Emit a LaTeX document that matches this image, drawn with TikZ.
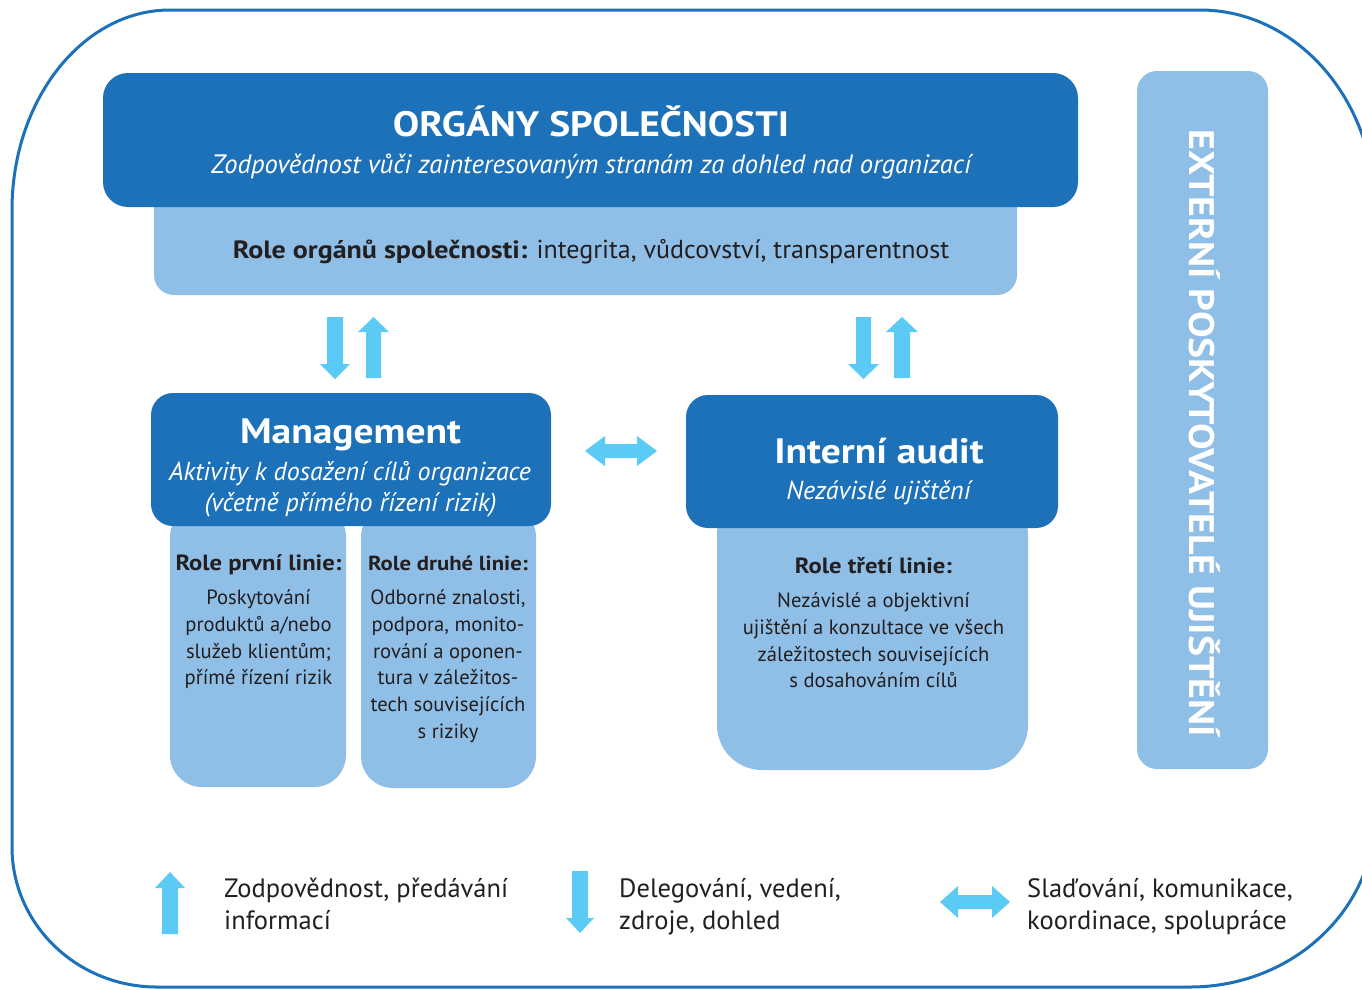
\documentclass[tikz,border=0pt]{standalone}
\usepackage{fontspec}
\setmainfont[BoldFeatures={FakeStretch=1.12}]{PT Sans}
\definecolor{dblue}{RGB}{29,113,184}
\definecolor{lblue}{RGB}{143,190,230}
\definecolor{acyan}{RGB}{91,203,245}
\definecolor{txt}{RGB}{35,31,32}
\tikzset{
  darkbox/.style={fill=dblue, draw=none, rounded corners=#1, inner sep=0pt},
  lightbox/.style={fill=lblue, draw=none, rounded corners=#1, inner sep=0pt},
  frameline/.style={draw=dblue, line width=3pt},
  barrow/.style={fill=acyan, draw=none},
  bigtitle/.style={text=white, inner sep=0pt, anchor=base, font=\bfseries\fontsize{35.3}{40}\selectfont},
  subtitle/.style={text=white, inner sep=0pt, anchor=base, font=\itshape\fontsize{26}{30}\selectfont},
  rolehead/.style={text=txt, inner sep=0pt, anchor=base, font=\bfseries\fontsize{22}{26}\selectfont},
  roletext/.style={text=txt, inner sep=0pt, anchor=base, font=\fontsize{20.6}{26}\selectfont},
  legendtext/.style={text=txt, inner sep=0pt, anchor=base west, font=\fontsize{26.5}{30}\selectfont},
}
\begin{document}
\begin{tikzpicture}[x=1pt,y=-1pt]
\useasboundingbox (0,0) rectangle (1362,989);
\clip (0,0) rectangle (1362,989);
\fill[white] (0,0) rectangle (1362,989);

% outer frame
\draw[frameline] (12,210) arc[start angle=180, end angle=270, x radius=158, y radius=200]
  -- (1200,10) arc[start angle=270, end angle=360, x radius=175, y radius=200]
  -- (1375,815) arc[start angle=0, end angle=90, x radius=185, y radius=172]
  -- (157,987) arc[start angle=90, end angle=180, x radius=145, y radius=140]
  -- cycle;

% light boxes (behind)
\node[lightbox=20pt, minimum width=863pt, minimum height=115pt] (roleboard) at (585.5,237.5) {};
\node[lightbox=32pt, minimum width=176pt, minimum height=282pt] (line1) at (258,646) {};
\node[lightbox=32pt, minimum width=175pt, minimum height=283pt] (line2) at (448.5,646.5) {};
\node[lightbox=45pt, minimum width=311pt, minimum height=280pt] (line3) at (872.5,630) {};
\node[lightbox=20pt, minimum width=131pt, minimum height=698pt] (ext) at (1202.5,420) {};

% dark boxes
\node[darkbox=25pt, minimum width=975pt, minimum height=134pt] (board) at (590.5,140) {};
\node[darkbox=22pt, minimum width=400pt, minimum height=133pt] (mgmt) at (351,459.5) {};
\node[darkbox=22pt, minimum width=372pt, minimum height=133pt] (audit) at (872,461.5) {};

% texts top
\node[bigtitle] (t1) at (591,136) {ORGÁNY SPOLEČNOSTI};
\node[subtitle, font=\itshape\fontsize{26.6}{30}\selectfont] (t2) at (591,173) {Zodpovědnost vůči zainteresovaným stranám za dohled nad organizací};
\node[text=txt, inner sep=0pt, anchor=base, font=\fontsize{26}{30}\selectfont] (t3) at (591,258) {{\bfseries\fontsize{25}{30}\selectfont Role orgánů společnosti:} integrita, vůdcovství, transparentnost};

% management
\node[bigtitle] (m1) at (350.5,443) {Management};
\node[subtitle] (m2) at (350,480) {Aktivity k dosažení cílů organizace};
\node[subtitle] (m3) at (350.5,511) {(včetně přímého řízení rizik)};

% audit
\node[bigtitle] (a1) at (879,463) {Interní audit};
\node[subtitle] (a2) at (878.5,499) {Nezávislé ujištění};

% first line
\node[rolehead] (h1) at (258.5,570) {Role první linie:};
\node[roletext] (p1a) at (258.5,604) {Poskytování};
\node[roletext] (p1b) at (258.5,631) {produktů a/nebo};
\node[roletext] (p1c) at (258.5,658) {služeb klientům;};
\node[roletext] (p1d) at (258.5,684) {přímé řízení rizik};

% second line
\node[rolehead, font=\bfseries\fontsize{20.3}{26}\selectfont] (h2) at (448,570) {Role druhé linie:};
\node[roletext] (p2a) at (448,604) {Odborné znalosti,};
\node[roletext] (p2b) at (448,631) {podpora, monito-};
\node[roletext] (p2c) at (448,658) {rování a oponen-};
\node[roletext] (p2d) at (448,684) {tura v záležitos-};
\node[roletext] (p2e) at (448,711) {tech souvisejících};
\node[roletext] (p2f) at (448,738) {s riziky};

% third line
\node[rolehead] (h3) at (873.5,573) {Role třetí linie:};
\node[roletext] (p3a) at (873.5,607) {Nezávislé a objektivní};
\node[roletext] (p3b) at (873.5,634) {ujištění a konzultace ve všech};
\node[roletext] (p3c) at (873.5,661) {záležitostech souvisejících};
\node[roletext] (p3d) at (873.5,687) {s dosahováním cílů};

% external
\node[text=white, inner sep=0pt, anchor=base, rotate=-90, font=\bfseries\fontsize{35.5}{40}\selectfont] (extt) at (1189,433.5) {EXTERNÍ POSKYTOVATELÉ UJIŠTĚNÍ};

% arrows left pair
\fill[barrow] (327,317) -- (343,317) -- (343,364) -- (350,364) -- (335,379) -- (320,364) -- (327,364) -- cycle;
\fill[barrow] (366,378) -- (381,378) -- (381,332) -- (389,332) -- (373.5,317) -- (358,332) -- (366,332) -- cycle;
% arrows right pair
\fill[barrow] (856,317) -- (871,317) -- (871,364) -- (879,364) -- (863.5,379) -- (848,364) -- (856,364) -- cycle;
\fill[barrow] (894,378) -- (910,378) -- (910,332) -- (918,332) -- (902,317) -- (886,332) -- (894,332) -- cycle;
% middle double arrow
\fill[barrow] (585,451) -- (605,436) -- (605,444) -- (637,444) -- (637,436) -- (657,451) -- (637,466) -- (637,458) -- (605,458) -- (605,466) -- cycle;

% legend
\fill[barrow] (162,934) -- (178,934) -- (178,888) -- (185,888) -- (170,872) -- (155,888) -- (162,888) -- cycle;
\node[legendtext] (lg1a) at (224,897) {Zodpovědnost, předávání};
\node[legendtext] (lg1b) at (224,929) {informací};
\fill[barrow] (572,871) -- (588,871) -- (588,918) -- (594,918) -- (580,933) -- (566,918) -- (572,918) -- cycle;
\node[legendtext] (lg2a) at (619,897) {Delegování, vedení,};
\node[legendtext] (lg2b) at (619,929) {zdroje, dohled};
\fill[barrow] (940,902) -- (958,886) -- (958,895) -- (992,895) -- (992,886) -- (1010,902) -- (992,918) -- (992,909) -- (958,909) -- (958,918) -- cycle;
\node[legendtext] (lg3a) at (1027,897) {Slaďování, komunikace,};
\node[legendtext] (lg3b) at (1027,929) {koordinace, spolupráce};
\end{tikzpicture}
\end{document}
